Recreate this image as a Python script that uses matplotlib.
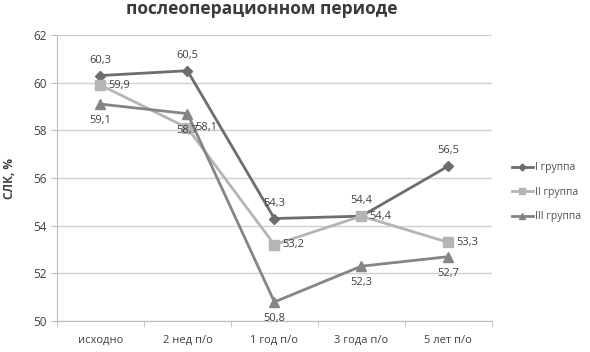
import matplotlib.pyplot as plt
import numpy as np

categories = ["исходно", "2 нед п/о", "1 год п/о", "3 года п/о", "5 лет п/о"]
group1 = [60.3, 60.5, 54.3, 54.4, 56.5]
group2 = [59.9, 58.1, 53.2, 54.4, 53.3]
group3 = [59.1, 58.7, 50.8, 52.3, 52.7]
names = ["I группа", "II группа", "III группа"]

plt.rcParams["font.family"] = ["Open Sans", "DejaVu Sans"]

fig = plt.figure(figsize=(5.9, 3.52), dpi=100)
ax = fig.add_axes([0.0966, 0.088, 0.737, 0.8126])

x = np.arange(len(categories))
styles = [
    (group1, "#6d6d6d", "D", 5, "above"),
    (group2, "#b5b5b5", "s", 7, "right"),
    (group3, "#858585", "^", 7, "below"),
]
for (vals, color, marker, ms, pos), name in zip(styles, names):
    ax.plot(x, vals, color=color, marker=marker, markersize=ms, linewidth=2,
            label=name, zorder=3)
    for xi, v in zip(x, vals):
        s = f"{v:.1f}".replace(".", ",")
        if pos == "above":
            ax.annotate(s, (xi, v), xytext=(0, 7), textcoords="offset points",
                        ha="center", va="bottom", fontsize=8, color="#404040")
        elif pos == "right":
            ax.annotate(s, (xi, v), xytext=(6, 0), textcoords="offset points",
                        ha="left", va="center", fontsize=8, color="#404040")
        else:
            ax.annotate(s, (xi, v), xytext=(0, -8), textcoords="offset points",
                        ha="center", va="top", fontsize=8, color="#404040")

ax.set_xlim(-0.5, len(categories) - 0.5)
ax.set_ylim(50, 62)
ax.set_yticks(np.arange(50, 63, 2))
ax.set_xticks(x)
ax.set_xticklabels(categories)
ax.set_xticks(np.arange(-0.5, len(categories), 1), minor=True)
ax.tick_params(axis="x", which="major", length=0, pad=10, labelsize=8, labelcolor="#404040")
ax.tick_params(axis="x", which="minor", length=4, color="#bdbdbd")
ax.tick_params(axis="y", length=4, color="#bdbdbd", labelsize=8.5, labelcolor="#404040")
ax.grid(axis="y", color="#d0d0d0", linewidth=1)
ax.set_axisbelow(True)
for side in ["top", "right"]:
    ax.spines[side].set_visible(False)
for side in ["left", "bottom"]:
    ax.spines[side].set_color("#bdbdbd")

ax.set_ylabel("СЛК, %", fontsize=8.5, fontweight="bold", color="#404040", labelpad=12)

fig.text(0.443, 0.975, "послеоперационном периоде", ha="center", va="center",
         fontsize=12.5, fontweight="bold", color="#3a3a3a")

ax.legend(loc="center left", bbox_to_anchor=(1.025, 0.45), frameon=False,
          fontsize=7.5, handlelength=2.0, handletextpad=0.2, labelspacing=1.3,
          markerscale=0.7, labelcolor="#505050")

fig.savefig("out.png", dpi=100)
